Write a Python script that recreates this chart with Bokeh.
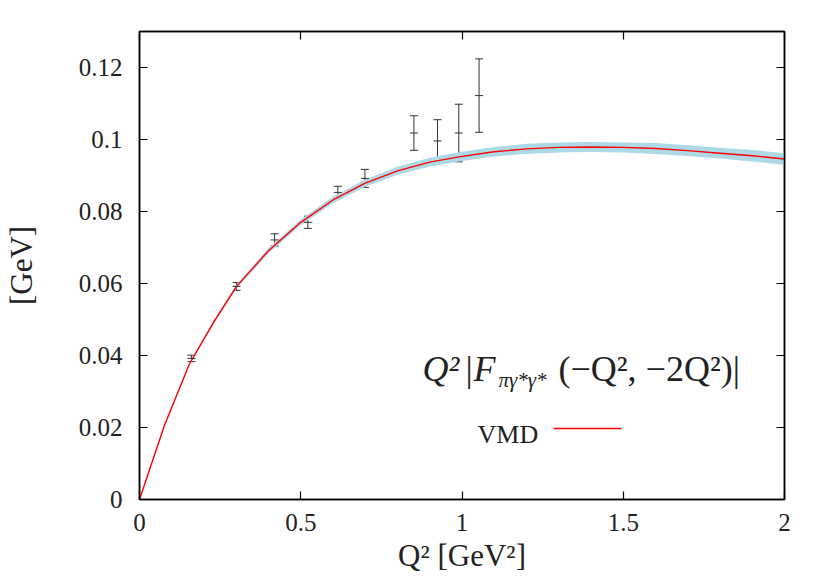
from bokeh.plotting import figure
from bokeh.models import (ColumnDataSource, Whisker, TeeHead, Label, PolyAnnotation,
                          FixedTicker, NumeralTickFormatter, LinearAxis, Range1d)
from bokeh.embed import file_html
from bokeh.resources import INLINE

# ---- data ----
curve_x = [0.0, 0.077, 0.154, 0.231, 0.301, 0.4, 0.5, 0.6, 0.7, 0.8, 0.9, 1.0,
           1.1, 1.2, 1.3, 1.4, 1.5, 1.6, 1.7, 1.8, 1.9, 2.0]
curve_y = [0.0, 0.0205, 0.0375, 0.0494, 0.0592, 0.0691, 0.0770, 0.0832, 0.0879,
           0.0913, 0.0937, 0.0953, 0.0966, 0.0974, 0.0978, 0.0979, 0.0978, 0.0975,
           0.0969, 0.0962, 0.0955, 0.0946]
band_half = [0.0, 0.0002, 0.0003, 0.0005, 0.0006, 0.0007, 0.0008, 0.0009, 0.0010,
             0.0011, 0.0012, 0.0013, 0.0013, 0.0014, 0.0014, 0.0014, 0.0014, 0.0015,
             0.0015, 0.0015, 0.0016, 0.0016]

data_x = [0.161, 0.301, 0.419, 0.522, 0.615, 0.699, 0.851, 0.924, 0.990, 1.053]
data_y = [0.0392, 0.0592, 0.0721, 0.0770, 0.0853, 0.0892, 0.1018, 0.0996, 0.1018, 0.1122]
data_err = [0.0009, 0.0011, 0.0017, 0.0017, 0.0017, 0.0025, 0.0048, 0.0059, 0.0080, 0.0102]

x_ticks = [0, 0.5, 1, 1.5, 2]
y_ticks = [0, 0.02, 0.04, 0.06, 0.08, 0.1, 0.12]

FONT = "Liberation Serif"
TXT = "#222222"

p = figure(frame_width=645, frame_height=468, min_border_left=139, min_border_top=31,
           min_border_right=45, min_border_bottom=81,
           x_range=Range1d(0, 2), y_range=Range1d(0, 0.13),
           output_backend="svg", toolbar_location=None)
p.background_fill_color = "white"
p.border_fill_color = "white"
p.grid.visible = False
p.outline_line_color = "black"
p.outline_line_width = 1.5

# band + curve
lo = [y - b for y, b in zip(curve_y, band_half)]
hi = [y + b for y, b in zip(curve_y, band_half)]
p.varea(x=curve_x, y1=lo, y2=hi, fill_color="#add8e6", fill_alpha=1.0)
p.line(x=curve_x, y=curve_y, line_color="red", line_width=1.4)

# data with error bars
src = ColumnDataSource(dict(x=data_x, y=data_y,
                            lower=[y - e for y, e in zip(data_y, data_err)],
                            upper=[y + e for y, e in zip(data_y, data_err)]))
ebc = "#333333"
w = Whisker(source=src, base="x", lower="lower", upper="upper", dimension="height",
            line_color=ebc, line_width=1,
            upper_head=TeeHead(size=8, line_color=ebc, line_width=1),
            lower_head=TeeHead(size=8, line_color=ebc, line_width=1))
p.add_layout(w)
p.dash(x="x", y="y", source=src, size=8, line_color=ebc, line_width=1)

# axes
def style_axis(ax):
    ax.axis_line_color = "black"
    ax.axis_line_width = 1.5
    ax.major_tick_in = 8
    ax.major_tick_out = 0
    ax.minor_tick_line_color = None
    ax.major_tick_line_color = "black"
    ax.major_tick_line_width = 1.2
    ax.major_label_text_font = FONT
    ax.major_label_text_font_size = "25px"
    ax.major_label_text_color = TXT
    ax.axis_label_text_font = FONT
    ax.axis_label_text_font_style = "normal"
    ax.axis_label_text_color = TXT

xa = p.xaxis[0]
ya = p.yaxis[0]
style_axis(xa)
style_axis(ya)
xa.ticker = FixedTicker(ticks=x_ticks)
ya.ticker = FixedTicker(ticks=y_ticks)
xa.formatter = NumeralTickFormatter(format="0.[0]")
ya.formatter = NumeralTickFormatter(format="0.[00]")
xa.major_label_standoff = 14
ya.major_label_standoff = 17
xa.axis_label = "Q² [GeV²]"
xa.axis_label_text_font_size = "31px"
xa.axis_label_standoff = 4
ya.axis_label = "[GeV]"
ya.axis_label_text_font_size = "31px"
ya.axis_label_standoff = 37

# mirror ticks on top and right (no labels drawn)
top = LinearAxis(ticker=FixedTicker(ticks=x_ticks))
right = LinearAxis(ticker=FixedTicker(ticks=y_ticks))
for ax in (top, right):
    style_axis(ax)
    ax.major_label_text_font_size = "1px"
    ax.major_label_text_color = None
    ax.major_label_standoff = 0
p.add_layout(top, "above")
p.add_layout(right, "right")

# annotation text (positions in data coordinates)
def dx(px):
    return (px - 139) / 322.5

def dy(py):
    return (499 - py) / 3600.0

def lab(txt, px, py, size, style="normal"):
    p.add_layout(Label(x=dx(px), y=dy(py), text=txt, text_font=FONT,
                       text_font_size=size, text_font_style=style,
                       text_color=TXT, text_baseline="alphabetic",
                       text_align="left"))

lab("Q²", 422, 368, "36px", "italic")
lab("|", 465, 368, "36px")
lab("F", 473, 368, "36px", "italic")
lab("πγ*γ*", 498, 379, "21px", "italic")
lab("(−Q², −2Q²)|", 558, 368, "36px")

lab("VMD", 477, 434, "26px")
p.add_layout(PolyAnnotation(xs=[dx(553), dx(621)], ys=[dy(428), dy(428)],
                            line_color="red", line_alpha=1.0, line_width=1.4,
                            fill_alpha=0))

open("out.html", "w").write(file_html(p, INLINE))
